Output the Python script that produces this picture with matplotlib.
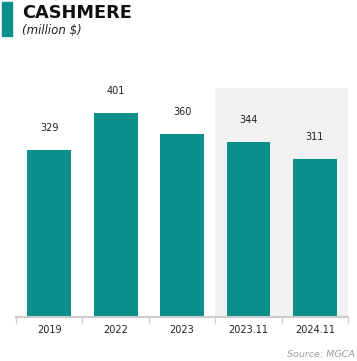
import matplotlib
matplotlib.use("Agg")
import matplotlib.pyplot as plt
from matplotlib.patches import Rectangle

# Cashmere revenue, million $
categories = ["2019", "2022", "2023", "2023.11", "2024.11"]
values = [329, 401, 360, 344, 311]

TEAL = "#0a8f8b"
plt.rcParams["font.family"] = ["DejaVu Sans"]

fig = plt.figure(figsize=(3.57, 3.61), dpi=100)
ax = fig.add_axes([0.045, 0.122, 0.930, 0.634])

x = range(len(categories))
ax.bar(x, values, width=0.66, color=TEAL, zorder=2)
for xi, v in zip(x, values):
    ax.annotate(f"{v}", (xi, v), xytext=(0, 12), textcoords="offset points",
                ha="center", va="bottom", fontsize=7, color="#222222")

# shaded block for the year-to-date comparison
ax.axvspan(2.5, 4.5, color="#f2f2f2", zorder=0, lw=0)

ax.set_xlim(-0.5, 4.5)
ax.set_ylim(0, 450)
ax.set_xticks(list(x))
ax.set_xticklabels(categories, fontsize=7, color="#222222")
ax.set_xticks([i - 0.5 for i in range(len(categories) + 1)], minor=True)
ax.tick_params(axis="x", which="major", length=0, pad=6)
ax.tick_params(axis="x", which="minor", length=4, width=1, color="#cccccc")
ax.set_yticks([])
for side in ["top", "right", "left"]:
    ax.spines[side].set_visible(False)
ax.spines["bottom"].set_color("#cccccc")
ax.spines["bottom"].set_linewidth(1.5)

# title block
fig.patches.append(Rectangle((2 / 357, 1 - 36 / 361), 10 / 357, 34 / 361,
                             transform=fig.transFigure, color=TEAL))
fig.text(22 / 357, 1 - 18 / 361, "CASHMERE", fontsize=12.8, fontweight="bold",
         color="#111111", va="baseline")
fig.text(22 / 357, 1 - 34 / 361, "(million $)", fontsize=8.5, style="italic",
         color="#222222", va="baseline")
fig.text(355 / 357, 1 - 357 / 361, "Source: MGCA", fontsize=6.8, style="italic",
         color="#999999", ha="right", va="baseline")

fig.savefig("out.png", dpi=100)
